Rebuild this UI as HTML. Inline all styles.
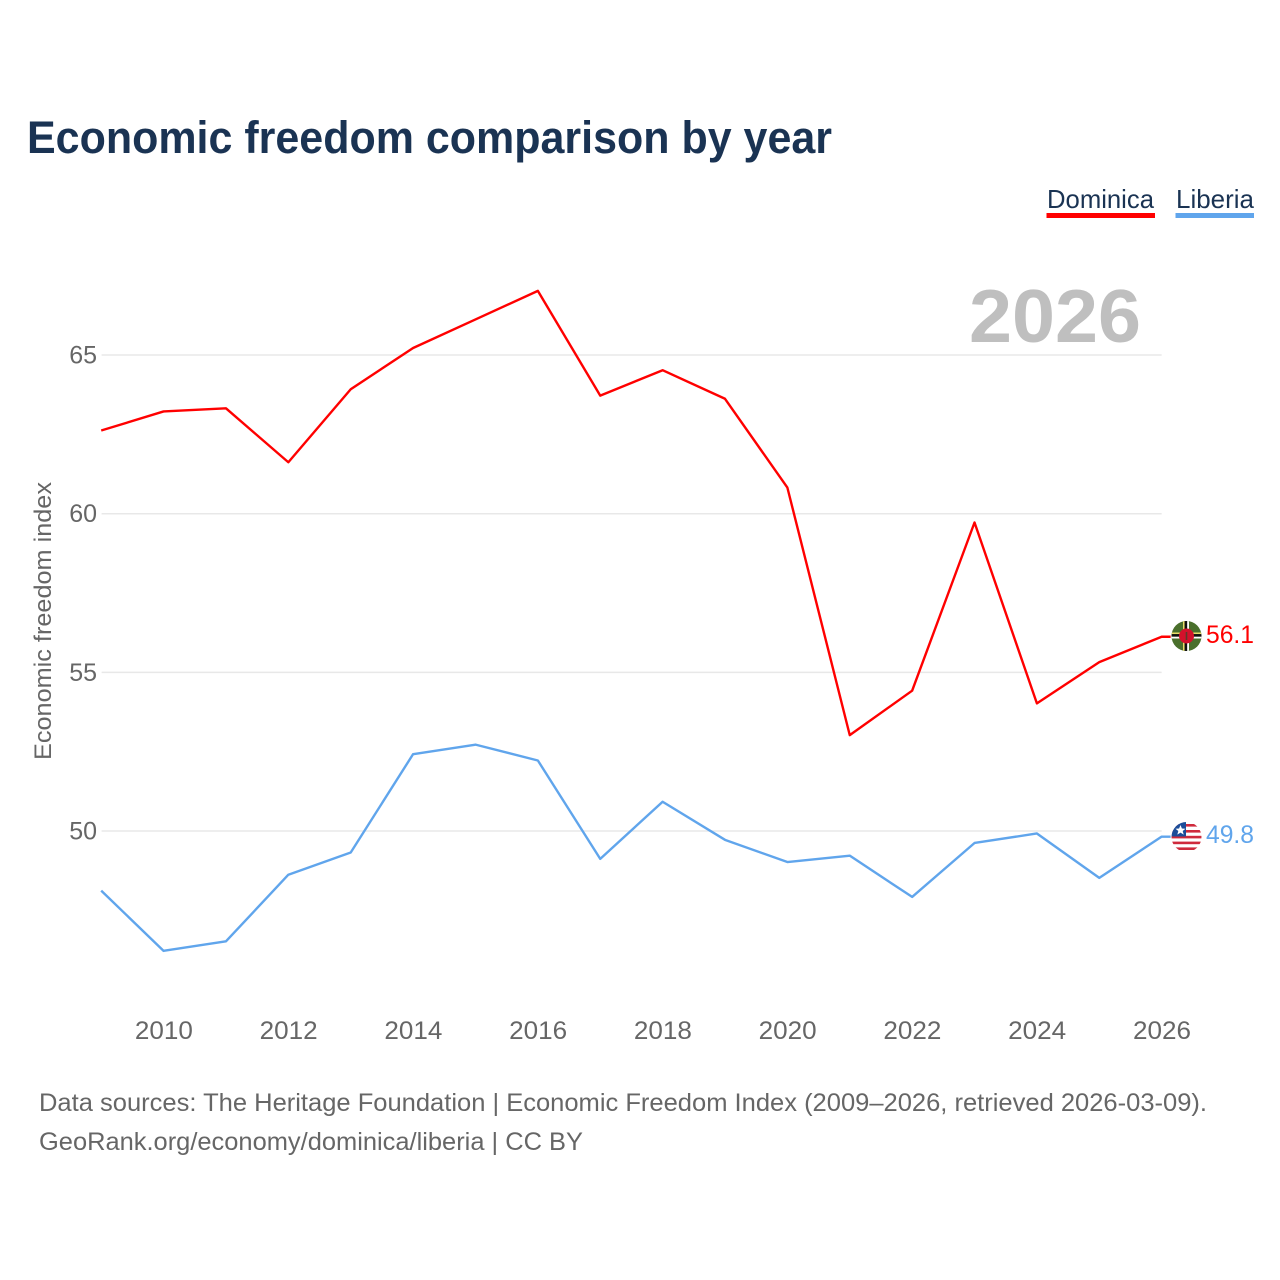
<!DOCTYPE html>
<html lang="en">
<head>
<meta charset="utf-8">
<title>Economic freedom comparison by year</title>
<style>
html,body{margin:0;padding:0;background:#fff;}
svg{display:block;font-family:"Liberation Sans",sans-serif;}
</style>
</head>
<body>
<svg id="chart" width="1280" height="1280" viewBox="0 0 1280 1280" xmlns="http://www.w3.org/2000/svg">
  <rect width="1280" height="1280" fill="#ffffff"/>
  <text x="27" y="153" font-size="45" font-weight="700" fill="#1a3353" textLength="805" lengthAdjust="spacingAndGlyphs">Economic freedom comparison by year</text>

  <g>
    <g>
      <text x="1047" y="208" font-size="26" fill="#1a3353" textLength="107" lengthAdjust="spacingAndGlyphs">Dominica</text>
      <rect x="1046.5" y="213" width="108.5" height="5" fill="#ff0000"/>
    </g>
    <g>
      <text x="1176" y="208" font-size="26" fill="#1a3353" textLength="78" lengthAdjust="spacingAndGlyphs">Liberia</text>
      <rect x="1175.5" y="213" width="78.5" height="5" fill="#60a5ec"/>
    </g>
  </g>

  <text x="1141" y="342" font-size="75" font-weight="700" fill="#bfbfbf" text-anchor="end" textLength="172" lengthAdjust="spacingAndGlyphs">2026</text>

  <g id="grid"></g>
  <g id="y-ticks"></g>
  <g id="x-ticks"></g>
  <g id="series"></g>

  <text transform="translate(51,621) rotate(-90)" font-size="24" fill="#666666" text-anchor="middle" textLength="278" lengthAdjust="spacingAndGlyphs">Economic freedom index</text>

  <defs>
    <clipPath id="flag-clip-dm"><circle cx="1186.5" cy="636" r="15"/></clipPath>
    <clipPath id="flag-clip-lr"><circle cx="1186.5" cy="837" r="15"/></clipPath>
  </defs>
  <g clip-path="url(#flag-clip-dm)">
    <rect x="1171" y="621" width="31" height="30" fill="#4a6f2c"/>
    <rect x="1171" y="632.5" width="31" height="1.6" fill="#e9dc6a"/>
    <rect x="1171" y="634.1" width="31" height="2.6" fill="#111111"/>
    <rect x="1171" y="636.7" width="31" height="1.8" fill="#ffffff"/>
    <rect x="1183" y="621" width="1.6" height="30" fill="#e9dc6a"/>
    <rect x="1184.6" y="621" width="2.6" height="30" fill="#111111"/>
    <rect x="1187.2" y="621" width="1.8" height="30" fill="#ffffff"/>
    <circle cx="1186.5" cy="636" r="7.5" fill="#d3112b"/>
    <rect x="1185.7" y="632" width="1.6" height="8" fill="#5b3a2a"/>
  </g>
  <g clip-path="url(#flag-clip-lr)">
    <rect x="1171" y="822" width="31" height="30" fill="#ffffff"/>
    <rect x="1171" y="824" width="31" height="2.6" fill="#cf2a3c"/>
    <rect x="1171" y="830" width="31" height="2.6" fill="#cf2a3c"/>
    <rect x="1171" y="835.8" width="31" height="2.6" fill="#cf2a3c"/>
    <rect x="1171" y="841.6" width="31" height="2.6" fill="#cf2a3c"/>
    <rect x="1171" y="847.4" width="31" height="2.6" fill="#cf2a3c"/>
    <rect x="1171" y="822" width="15" height="14.5" fill="#1c4d99"/>
    <polygon points="1180.5,825 1181.9,828.5 1185.5,828.7 1182.7,831 1183.7,834.6 1180.5,832.6 1177.3,834.6 1178.3,831 1175.5,828.7 1179.1,828.5" fill="#ffffff"/>
  </g>

  <text id="end-dominica" x="1254" y="643" font-size="25" fill="#ff0000" text-anchor="end" textLength="48" lengthAdjust="spacingAndGlyphs"></text>
  <text id="end-liberia" x="1254" y="843" font-size="25" fill="#60a5ec" text-anchor="end" textLength="48" lengthAdjust="spacingAndGlyphs"></text>

  <text x="39" y="1111" font-size="25" fill="#666666" textLength="1168" lengthAdjust="spacingAndGlyphs">Data sources: The Heritage Foundation | Economic Freedom Index (2009–2026, retrieved 2026-03-09).</text>
  <text x="39" y="1150" font-size="25" fill="#666666" textLength="544" lengthAdjust="spacingAndGlyphs">GeoRank.org/economy/dominica/liberia | CC BY</text>
</svg>
<script>
var years = [2009,2010,2011,2012,2013,2014,2015,2016,2017,2018,2019,2020,2021,2022,2023,2024,2025,2026];
var dominicaValues = [62.6,63.2,63.3,61.6,63.9,65.2,66.1,67.0,63.7,64.5,63.6,60.8,53.0,54.4,59.7,54.0,55.3,56.1];
var liberiaValues = [48.1,46.2,46.5,48.6,49.3,52.4,52.7,52.2,49.1,50.9,49.7,49.0,49.2,47.9,49.6,49.9,48.5,49.8];
var yTickValues = [50,55,60,65];
var xTickYears = [2010,2012,2014,2016,2018,2020,2022,2024,2026];

var NS = 'http://www.w3.org/2000/svg';
function xScale(year){ return 101.2 + (year - 2009) * 62.38; }
function yScale(v){ return 831 - (v - 50) * 31.73; }
function yMark(v){ return yScale(v) - 0.7; }

var gridGroup = document.getElementById('grid');
var yTickGroup = document.getElementById('y-ticks');
var xTickGroup = document.getElementById('x-ticks');
var seriesGroup = document.getElementById('series');

yTickValues.forEach(function(v){
  var line = document.createElementNS(NS,'line');
  line.setAttribute('x1', 101.6);
  line.setAttribute('x2', xScale(2026));
  line.setAttribute('y1', yScale(v));
  line.setAttribute('y2', yScale(v));
  line.setAttribute('stroke', '#e8e8e8');
  line.setAttribute('stroke-width', '1.5');
  
  
  gridGroup.appendChild(line);

  var label = document.createElementNS(NS,'text');
  label.setAttribute('x', 97);
  label.setAttribute('y', yScale(v) + 8.5);
  label.setAttribute('text-anchor', 'end');
  label.setAttribute('font-size', '25');
  label.setAttribute('fill', '#666666');
  
  
  label.textContent = v;
  yTickGroup.appendChild(label);
});

xTickYears.forEach(function(year){
  var label = document.createElementNS(NS,'text');
  label.setAttribute('x', xScale(year) + 0.3);
  label.setAttribute('y', 1039);
  label.setAttribute('text-anchor', 'middle');
  label.setAttribute('font-size', '25');
  label.setAttribute('fill', '#666666');
  label.setAttribute('textLength', '58');
  label.setAttribute('lengthAdjust', 'spacingAndGlyphs');
  
  
  label.textContent = year;
  xTickGroup.appendChild(label);
});

function pathFor(values){
  var last = values[values.length - 1];
  return values.map(function(v,i){
    return (i ? 'L' : 'M') + xScale(years[i]).toFixed(2) + ' ' + yMark(v).toFixed(2);
  }).join(' ') + ' L' + (xScale(years[years.length - 1]) + 9).toFixed(2) + ' ' + yMark(last).toFixed(2);
}

var liberiaLine = document.createElementNS(NS,'path');
liberiaLine.setAttribute('d', pathFor(liberiaValues));
liberiaLine.setAttribute('fill', 'none');
liberiaLine.setAttribute('stroke', '#60a5ec');
liberiaLine.setAttribute('stroke-width', '2.4');
liberiaLine.setAttribute('stroke-linejoin', 'round');


seriesGroup.appendChild(liberiaLine);

var dominicaLine = document.createElementNS(NS,'path');
dominicaLine.setAttribute('d', pathFor(dominicaValues));
dominicaLine.setAttribute('fill', 'none');
dominicaLine.setAttribute('stroke', '#ff0000');
dominicaLine.setAttribute('stroke-width', '2.4');
dominicaLine.setAttribute('stroke-linejoin', 'round');


seriesGroup.appendChild(dominicaLine);

document.getElementById('end-dominica').textContent = dominicaValues[dominicaValues.length-1].toFixed(1);
document.getElementById('end-liberia').textContent = liberiaValues[liberiaValues.length-1].toFixed(1);
</script>
</body>
</html>
